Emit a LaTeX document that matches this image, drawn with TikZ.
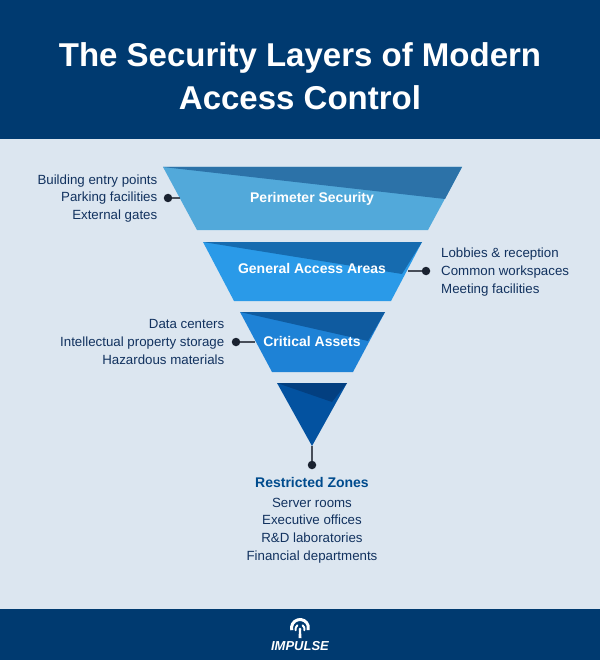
\documentclass[tikz,border=0pt]{standalone}
\usepackage{fontspec}
\setmainfont{Liberation Sans}
\usetikzlibrary{calc}
\definecolor{bgc}{HTML}{DCE6F0}
\definecolor{navy}{HTML}{003A70}
\definecolor{ink}{HTML}{12325F}
\definecolor{headc}{HTML}{004B8D}
\definecolor{dotc}{HTML}{1A2230}
\definecolor{la}{HTML}{52A9DA}\definecolor{da}{HTML}{2C72A8}
\definecolor{lb}{HTML}{2A9AE8}\definecolor{db}{HTML}{166BAF}
\definecolor{lc}{HTML}{1E82D6}\definecolor{dc}{HTML}{0F5BA0}
\definecolor{ld}{HTML}{0352A0}\definecolor{dd}{HTML}{033F80}
\tikzset{
 x=1pt,y=-1pt,
 layerlabel/.style={text=white,font=\bfseries\fontsize{14}{14}\selectfont,inner sep=0pt},
 itemlist/.style={text=ink,font=\fontsize{13.3}{17.6}\selectfont,inner sep=0pt},
 pin/.style={circle,fill=dotc,minimum size=8.5pt,inner sep=0pt},
 leader/.style={draw=dotc!80,line width=1.1pt},
}
\begin{document}
\begin{tikzpicture}
\useasboundingbox (0,0) rectangle (600,660);
\fill[bgc] (0,0) rectangle (600,660);
\fill[navy] (0,0) rectangle (600,139);
\fill[navy] (0,609) rectangle (600,660);
\node[text=white,align=center,inner sep=0pt,font=\bfseries\fontsize{33}{43}\selectfont] (title) at (300,76) {The Security Layers of Modern\\Access Control};
% layers
\fill[la] (163,167)--(462,167)--(428,230)--(197,230)--cycle;
\fill[da] (163,167)--(462,167)--(445,199)--cycle;
\fill[lb] (203,242)--(422,242)--(391,301)--(234,301)--cycle;
\fill[db] (203,242)--(422,242)--(402,274)--cycle;
\fill[lc] (240,312)--(385,312)--(353,372)--(272,372)--cycle;
\fill[dc] (240,312)--(385,312)--(368,341)--cycle;
\fill[ld] (277,383)--(347,383)--(312,446)--cycle;
\fill[dd] (277,383)--(347,383)--(332,402)--cycle;
\node[layerlabel] (l1) at (312,199) {Perimeter Security};
\node[layerlabel] (l2) at (312,268.5) {General Access Areas};
\node[layerlabel] (l3) at (312,341.5) {Critical Assets};
% connectors
\coordinate (e1) at (180,198);
\coordinate (e2) at (408,271);
\coordinate (e3) at (255,342);
\coordinate (e4) at (312,446);
\node[pin] (p1) at (168,198) {};
\node[pin] (p2) at (426,271) {};
\node[pin] (p3) at (236,342) {};
\node[pin] (p4) at (312,465) {};
\draw[leader] (p1)--(e1);
\draw[leader] (p2)--(e2);
\draw[leader] (p3)--(e3);
\draw[leader] (p4)--(e4);
% lists
\node[itemlist,align=right,anchor=east] (t1) at (157.5,198.5) {Building entry points\\Parking facilities\\External gates};
\node[itemlist,align=left,anchor=west] (t2) at (441,272) {Lobbies \& reception\\Common workspaces\\Meeting facilities};
\node[itemlist,align=right,anchor=east] (t3) at (224.5,342) {Data centers\\Intellectual property storage\\Hazardous materials};
\node[text=headc,inner sep=0pt,font=\bfseries\fontsize{14}{14}\selectfont] (rz) at (312,482) {Restricted Zones};
\node[itemlist,align=center,anchor=north] (t4) at (312,497.8) {Server rooms\\Executive offices\\R\&D laboratories\\Financial departments};
% logo
\draw[white,line width=3pt] (300,628)++(165:8.5) arc[start angle=165,end angle=375,radius=8.5];
\draw[white,line width=2pt,line cap=round] (300,629)++(165:4.5) arc[start angle=165,end angle=235,radius=4.5];
\draw[white,line width=2pt,line cap=round] (300,629)++(15:4.5) arc[start angle=15,end angle=-55,radius=4.5];
\fill[white] (300,629) circle[radius=1.5];
\fill[white] (299,630) -- (301,630) -- (301.5,638) -- (298.5,638) -- cycle;
\node[text=white,inner sep=0pt,font=\bfseries\itshape\fontsize{13}{13}\selectfont] (logo) at (300,646) {IMPULSE};
\end{tikzpicture}
\end{document}
